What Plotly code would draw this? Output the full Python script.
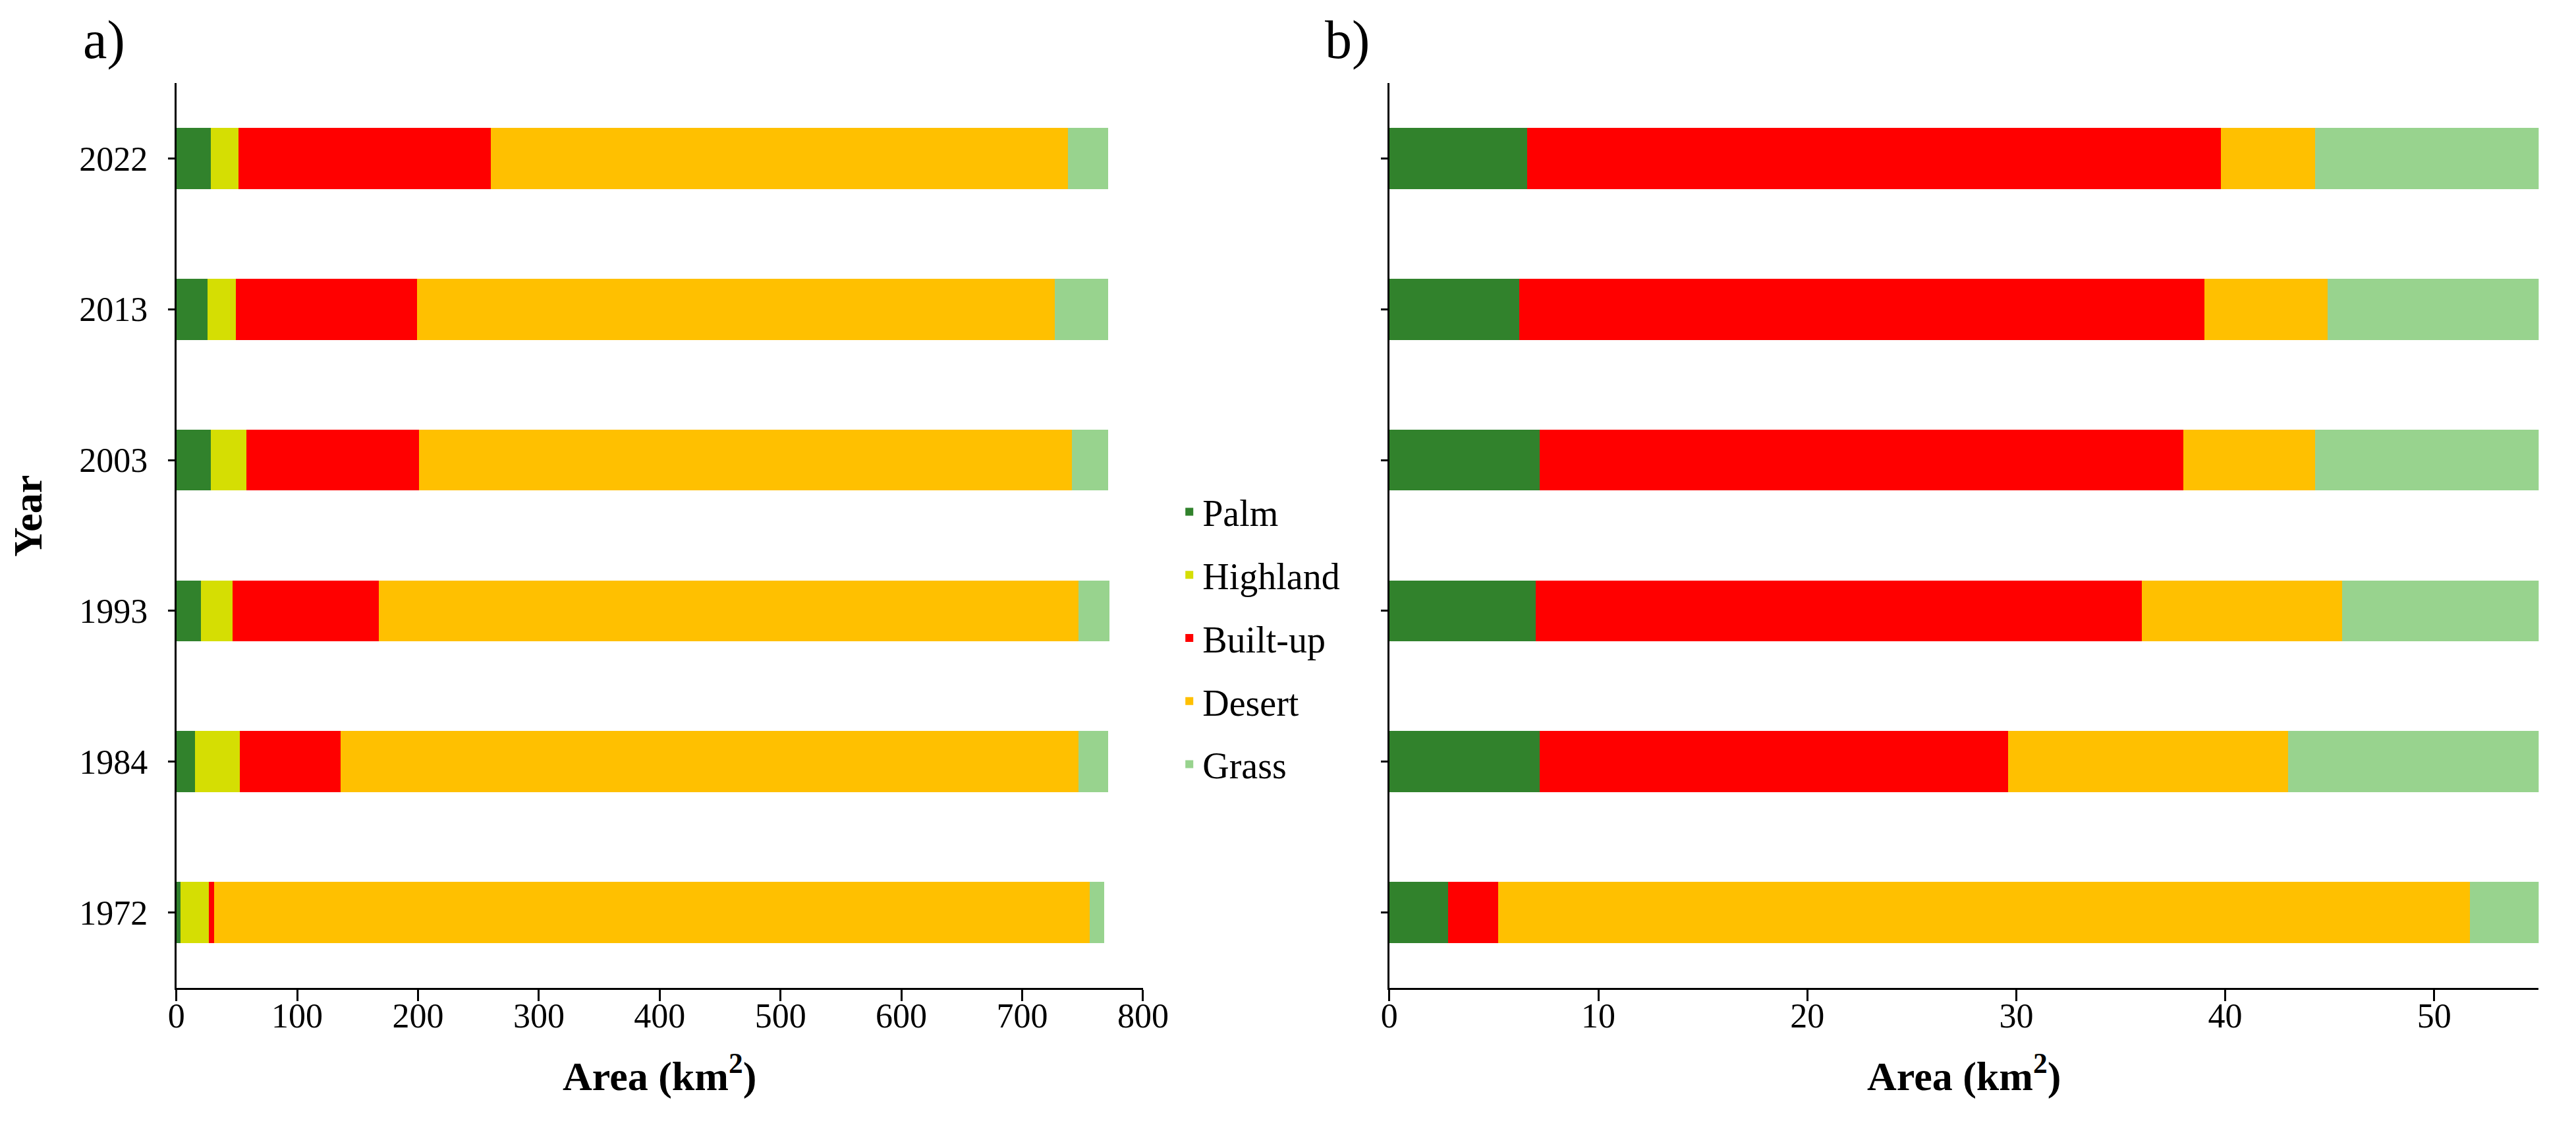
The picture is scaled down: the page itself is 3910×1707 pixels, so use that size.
import plotly.graph_objects as go

years = ["1972", "1984", "1993", "2003", "2013", "2022"]
classes = ["Palm", "Highland", "Built-up", "Desert", "Grass"]
colors = ["#31822C", "#D5DE03", "#FF0000", "#FFC000", "#98D38E"]

# Panel a (km2), bottom to top: 1972 ... 2022
a_palm     = [3.4, 15.5, 20.2, 28.3, 25.6, 28.3]
a_highland = [23.6, 37.0, 26.3, 29.6, 23.6, 22.9]
a_builtup  = [4.0, 83.5, 121.2, 142.8, 149.8, 208.8]
a_desert   = [725.0, 610.8, 579.1, 540.3, 528.0, 478.0]
a_grass    = [12.0, 24.2, 25.2, 30.0, 44.0, 33.0]

# Panel b (km2)
b_palm     = [2.8, 7.2, 7.0, 7.2, 6.2, 6.6]
b_highland = [0.0, 0.0, 0.0, 0.0, 0.0, 0.0]
b_builtup  = [2.4, 22.4, 29.0, 30.8, 32.8, 33.2]
b_desert   = [46.5, 13.4, 9.6, 6.3, 5.9, 4.5]
b_grass    = [3.4, 12.1, 9.5, 10.8, 10.2, 10.8]

a_series = [a_palm, a_highland, a_builtup, a_desert, a_grass]
b_series = [b_palm, b_highland, b_builtup, b_desert, b_grass]

FONT = "Liberation Serif, Times New Roman, serif"
W, H = 3910, 1707

fig = go.Figure()
for name, col, vals in zip(classes, colors, a_series):
    fig.add_trace(go.Bar(x=vals, y=years, orientation="h", name=name, legendgroup=name,
                         marker=dict(color=col, line=dict(width=0)),
                         xaxis="x", yaxis="y", showlegend=True))
for name, col, vals in zip(classes, colors, b_series):
    fig.add_trace(go.Bar(x=vals, y=years, orientation="h", name=name, legendgroup=name,
                         marker=dict(color=col, line=dict(width=0)),
                         xaxis="x2", yaxis="y2", showlegend=False))

ydom = [1 - 1491 / H, 1 - 118 / H]
axis_common = dict(showgrid=False, zeroline=False, showline=True, linecolor="black",
                   linewidth=3, ticks="outside", tickcolor="black", tickwidth=3,
                   tickfont=dict(family=FONT, size=52, color="black"))

title_font = dict(family=FONT, size=62, color="black")

fig.update_layout(
    width=W, height=H, autosize=False,
    margin=dict(l=0, r=0, t=0, b=0),
    paper_bgcolor="white", plot_bgcolor="white",
    barmode="stack", bargap=0.595,
    font=dict(family=FONT, color="black"),
    xaxis=dict(domain=[250 / W, 1737 / W], range=[0, 800], dtick=100, ticklen=17,
               ticklabelstandoff=-22, anchor="y", **axis_common),
    yaxis=dict(domain=ydom, type="category", categoryorder="array", categoryarray=years,
               range=[-0.5, 5.5], ticklen=10, ticklabelstandoff=20, anchor="x",
               **axis_common),
    xaxis2=dict(domain=[2116 / W, 3884 / W], range=[0, 55], dtick=10, ticklen=17,
                ticklabelstandoff=-22, anchor="y2", **axis_common),
    yaxis2=dict(domain=ydom, type="category", categoryorder="array", categoryarray=years,
                range=[-0.5, 5.5], ticklen=10, showticklabels=False, anchor="x2",
                **axis_common),
    legend=dict(x=1788 / W, y=1 - 960 / H, xanchor="left", yanchor="middle",
                font=dict(family=FONT, size=56, color="black"),
                bgcolor="rgba(0,0,0,0)", traceorder="grouped",
                tracegroupgap=20, itemwidth=30),
    annotations=[
        dict(text="a)", x=139 / W, y=1 - 52 / H, xref="paper", yref="paper",
             xanchor="center", yanchor="middle",
             showarrow=False, font=dict(family=FONT, size=82, color="black")),
        dict(text="b)", x=2051 / W, y=1 - 52 / H, xref="paper", yref="paper",
             xanchor="center", yanchor="middle",
             showarrow=False, font=dict(family=FONT, size=82, color="black")),
        dict(text="<b>Year</b>", x=21 / W, y=1 - 775 / H, xref="paper", yref="paper",
             xanchor="center", yanchor="middle",
             textangle=-90, showarrow=False, font=title_font),
        dict(text="<b>Area (km<sup>2</sup>)</b>", x=993 / W, y=1 - 1620 / H,
             xref="paper", yref="paper", xanchor="center", yanchor="middle",
             showarrow=False, font=title_font),
        dict(text="<b>Area (km<sup>2</sup>)</b>", x=3000 / W, y=1 - 1620 / H,
             xref="paper", yref="paper", xanchor="center", yanchor="middle",
             showarrow=False, font=title_font),
    ],
)

fig.write_html("out.html")
